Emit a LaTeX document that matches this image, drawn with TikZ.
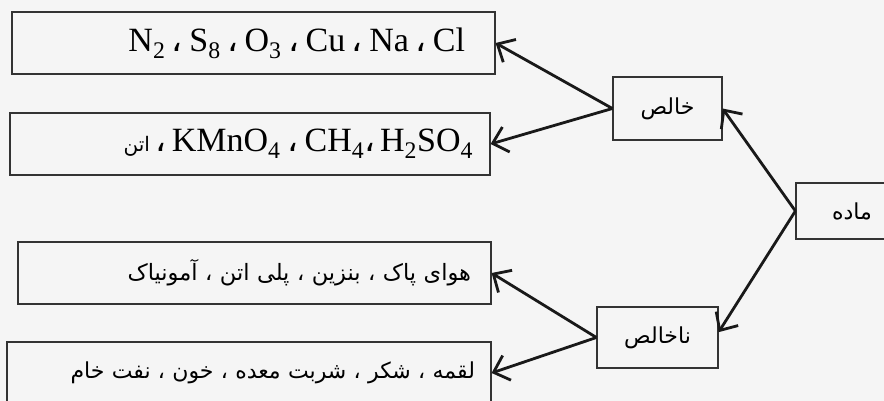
\documentclass[tikz,border=0pt]{standalone}
\usepackage{fontspec}
\usetikzlibrary{arrows.meta}
\setmainfont{Liberation Serif}
\newfontfamily\arabicfont[Script=Arabic]{DejaVu Sans}
\TeXXeTstate=1
\newcommand{\fsep}{\hspace{6.5pt}{\arabicfont ،}\hspace{6.5pt}}

\begin{document}
\begin{tikzpicture}[x=1pt,y=-1pt,
  listbox/.style={draw=black!80,line width=1.2pt,minimum height=62pt,inner ysep=0pt,align=right},
  namebox/.style={draw=black!80,line width=1.2pt,inner sep=0pt,font=\arabicfont\fontsize{22}{26}\selectfont},
  link/.style={draw=black!90,line width=2.8pt,-{Straight Barb[length=14pt,width=26pt]}}]
\path[use as bounding box,fill=black!4] (0,0) rectangle (884,401);
\clip (0,0) rectangle (884,401);
\node[listbox,inner xsep=30pt,text width=423pt,font=\fontsize{34}{40}\selectfont] (pure1) at (253.5,43) {N\textsubscript{2}\fsep S\textsubscript{8}\fsep O\textsubscript{3}\fsep Cu\fsep Na\fsep Cl};
\node[listbox,inner xsep=17pt,text width=446pt,font=\fontsize{34}{40}\selectfont] (pure2) at (250,144) {{\arabicfont\fontsize{20}{24}\selectfont\beginR اتن\endR}\hspace{6pt}{\arabicfont ،}\hspace{5pt}KMnO\textsubscript{4}\fsep CH\textsubscript{4}{\arabicfont ،}\hspace{5pt}H\textsubscript{2}SO\textsubscript{4}};
\node[listbox,inner xsep=20pt,text width=433pt,font=\arabicfont\fontsize{22.5}{26}\selectfont] (impure1) at (254.5,273) {\beginR هوای پاک ، بنزین ، پلی اتن ، آمونیاک\endR};
\node[listbox,inner xsep=16pt,text width=452pt,font=\arabicfont\fontsize{22}{26}\selectfont] (impure2) at (249,373) {\beginR لقمه ، شکر ، شربت معده ، خون ، نفت خام\endR};
\node[namebox,minimum width=109pt,minimum height=63pt] (khales) at (667.5,108.5) {\beginR خالص\endR};
\node[namebox,minimum width=112pt,minimum height=56pt] (madde) at (852,211) {\beginR ماده\endR};
\node[namebox,minimum width=121pt,minimum height=61pt] (nakhales) at (657.5,337.5) {\beginR ناخالص\endR};
\draw[link] (khales.west) -- (pure1.east);
\draw[link] (khales.west) -- (pure2.east);
\draw[link] (madde.west) -- (khales.east);
\draw[link] (madde.west) -- (nakhales.5);
\draw[link] (nakhales.west) -- (impure1.east);
\draw[link] (nakhales.west) -- (impure2.east);
\end{tikzpicture}
\end{document}
